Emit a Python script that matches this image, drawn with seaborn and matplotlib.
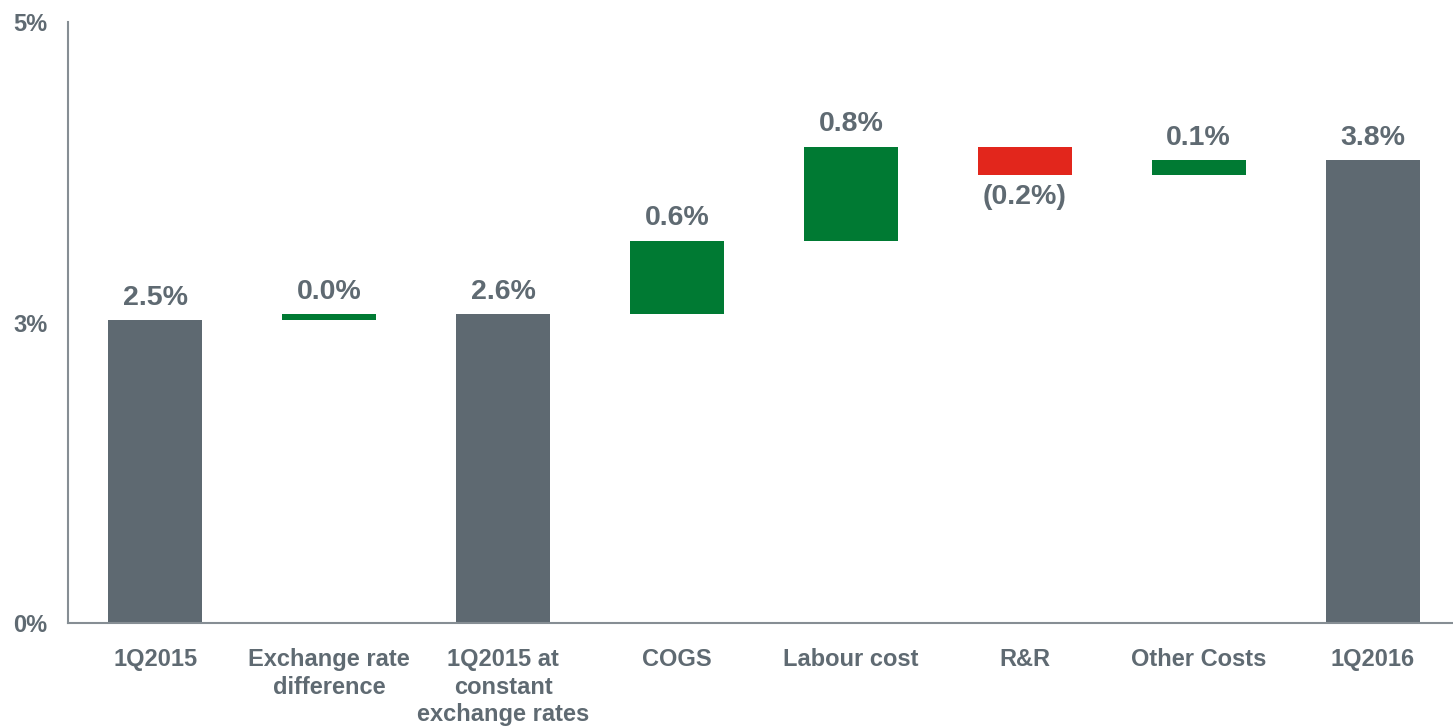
import matplotlib
matplotlib.use("Agg")
import matplotlib.pyplot as plt
import numpy as np
import pandas as pd
import seaborn as sns

# categories and values (percentage points)
categories = ["1Q2015", "Exchange rate\ndifference", "1Q2015 at\nconstant\nexchange rates",
              "COGS", "Labour cost", "R&R", "Other Costs", "1Q2016"]
values = [2.52, 0.05, 2.57, 0.61, 0.78, -0.23, 0.12, 3.85]
is_total = [True, False, True, False, False, False, False, True]
value_labels = ["2.5%", "0.0%", "2.6%", "0.6%", "0.8%", "(0.2%)", "0.1%", "3.8%"]
ytick_vals = [0, 2.5, 5]
ytick_labels = ["0%", "3%", "5%"]

GREY = "#5e6971"
GREEN = "#007a33"
RED = "#e2261c"
TEXT = "#5f6a72"
AXIS = "#868e94"

# waterfall bottoms
bottoms = []
running = 0.0
for v, tot in zip(values, is_total):
    if tot:
        bottoms.append(0.0)
        running = v
    else:
        bottoms.append(running)
        running += v

df = pd.DataFrame({"category": categories, "value": values, "bottom": bottoms})

sns.set_style("white")
plt.rcParams["font.family"] = ["Liberation Sans", "DejaVu Sans"]
plt.rcParams["font.weight"] = "bold"

fig = plt.figure(figsize=(14.53, 7.28), dpi=100)
ax = fig.add_axes([0.0471, 0.1436, 0.9574, 0.8262])

sns.barplot(data=df, x="category", y="value", bottom=df["bottom"].values,
            width=0.54, color=GREY, ax=ax, errorbar=None, linewidth=0)

for bar, v, tot in zip(ax.patches, values, is_total):
    if tot:
        c = GREY
    elif v >= 0:
        c = GREEN
    else:
        c = RED
    bar.set_facecolor(c)
    bar.set_edgecolor(c)

# value labels
for i, (v, b, lab) in enumerate(zip(values, bottoms, value_labels)):
    if v >= 0:
        ax.annotate(lab, (i, b + v), xytext=(0, 7), textcoords="offset points",
                    ha="center", va="bottom", fontsize=20.5, fontweight="bold", color=TEXT)
    else:
        ax.annotate(lab, (i, b + v), xytext=(0, -7), textcoords="offset points",
                    ha="center", va="top", fontsize=20.5, fontweight="bold", color=TEXT)

ax.set_xlim(-0.5, 7.5)
ax.set_ylim(0, 5)
ax.set_yticks(ytick_vals)
ax.set_yticklabels(ytick_labels)
ax.set_xlabel("")
ax.set_ylabel("")
ax.tick_params(axis="x", length=0, pad=18, labelsize=17, labelcolor=TEXT)
ax.tick_params(axis="y", length=0, pad=15, labelsize=17, labelcolor=TEXT)
for lab in ax.get_xticklabels():
    lab.set_fontweight("bold")
    lab.set_linespacing(1.25)
for lab in ax.get_yticklabels():
    lab.set_fontweight("bold")

sns.despine(ax=ax)
ax.spines["left"].set_color(AXIS)
ax.spines["bottom"].set_color(AXIS)
ax.spines["left"].set_linewidth(1.5)
ax.spines["bottom"].set_linewidth(1.5)

fig.savefig("out.png", dpi=100)
